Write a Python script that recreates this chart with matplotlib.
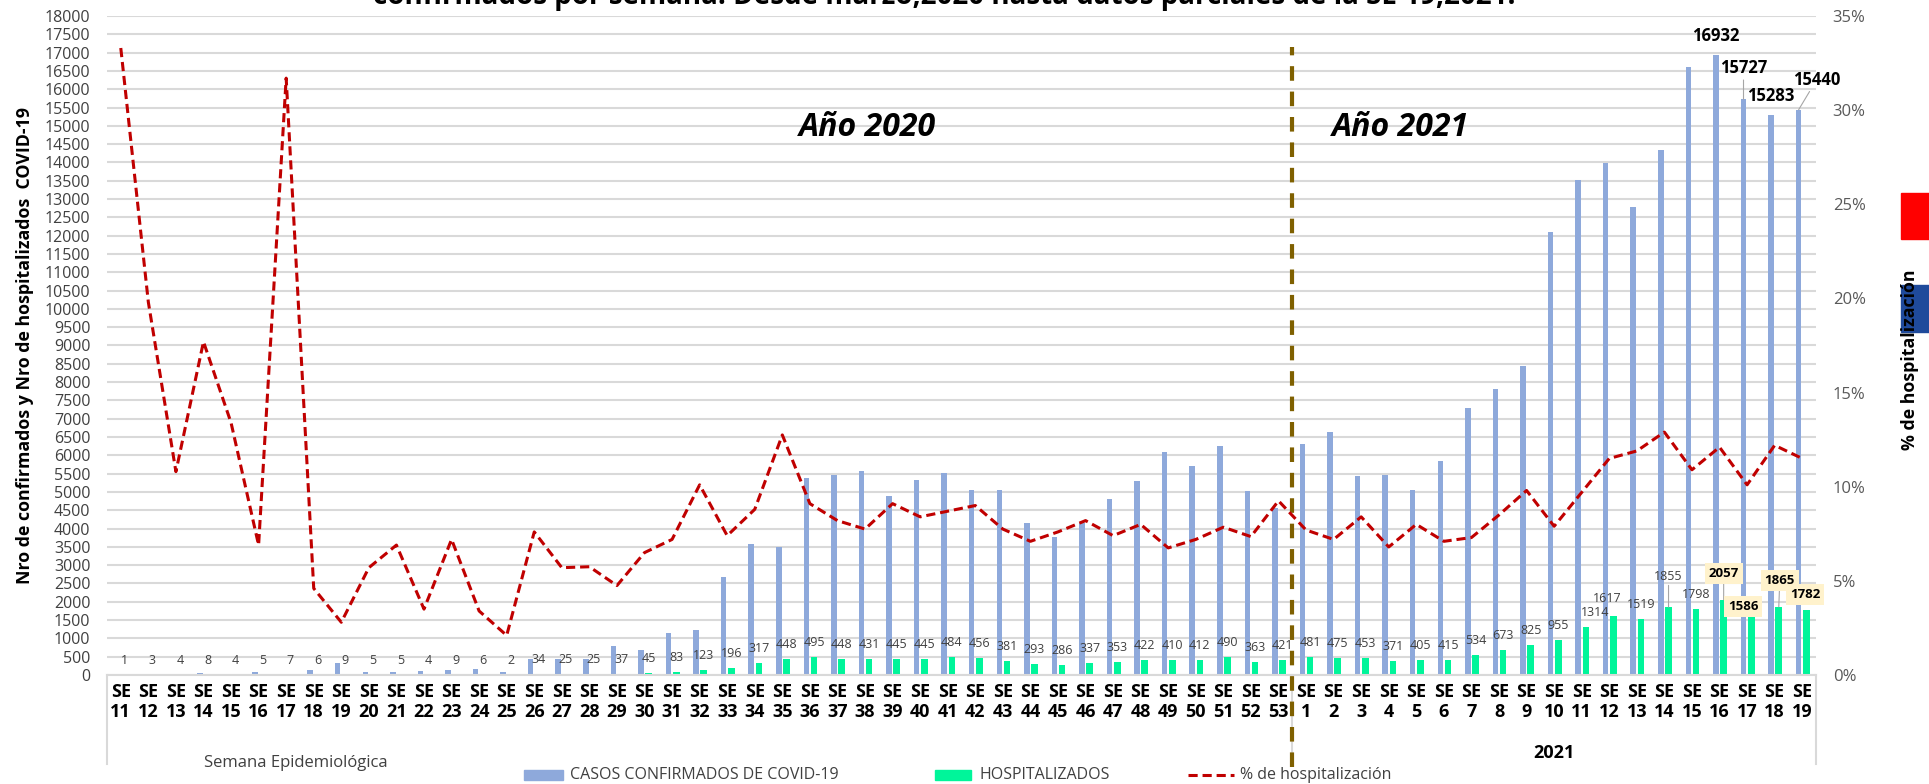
import numpy as np
import matplotlib.pyplot as plt
import matplotlib.transforms as mtransforms
from matplotlib.patches import Rectangle
from matplotlib.lines import Line2D

plt.rcParams['font.family'] = ['Open Sans', 'DejaVu Sans']

# Semanas epidemiologicas
weeks_2020 = list(range(11, 54))
weeks_2021 = list(range(1, 20))

# Casos confirmados por semana
cases_2020 = [3, 15, 37, 45, 30, 73, 22, 130, 318, 87, 72, 114, 125, 176, 95,
              447, 441, 435, 780, 692, 1160, 1238, 2669, 3579, 3497, 5391, 5464,
              5574, 4900, 5328, 5528, 5045, 5045, 4144, 3770, 4144, 4800, 5292,
              6093, 5710, 6248, 5019, 4554]
cases_2021 = [6320, 6630, 5437, 5464, 5063, 5847, 7304, 7814, 8443, 12112,
              13516, 13980, 12795, 14336, 16603, 16932, 15727, 15283, 15440]

# Hospitalizados
hosp_2020 = [1, 3, 4, 8, 4, 5, 7, 6, 9, 5, 5, 4, 9, 6, 2, 34, 25, 25, 37, 45,
             83, 123, 196, 317, 448, 495, 448, 431, 445, 445, 484, 456, 381,
             293, 286, 337, 353, 422, 410, 412, 490, 363, 421]
hosp_2021 = [481, 475, 453, 371, 405, 415, 534, 673, 825, 955, 1314, 1617,
             1519, 1855, 1798, 2057, 1586, 1865, 1782]

# % de hospitalizacion
pct_2020 = [33.3, 19.8, 10.8, 17.7, 13.4, 6.9, 31.7, 4.6, 2.8, 5.7, 6.9, 3.5,
            7.2, 3.4, 2.1, 7.6, 5.7, 5.75, 4.75, 6.5, 7.2, 10.1, 7.4, 8.8,
            12.75, 9.1, 8.2, 7.75, 9.1, 8.4, 8.7, 9.0, 7.75, 7.1, 7.6, 8.2,
            7.4, 8.0, 6.75, 7.2, 7.85, 7.35, 9.25]
pct_2021 = [7.7, 7.2, 8.4, 6.8, 8.0, 7.1, 7.3, 8.5, 9.8, 7.9, 9.7, 11.5, 11.9,
            12.9, 10.9, 12.1, 10.1, 12.2, 11.5]

labels = [f"SE\n{w}" for w in weeks_2020 + weeks_2021]
cases = np.array(cases_2020 + cases_2021)
hosp = np.array(hosp_2020 + hosp_2021)
pct = np.array(pct_2020 + pct_2021)
x = np.arange(len(labels))
n20 = len(weeks_2020)

W, H = 1929, 784
fig = plt.figure(figsize=(W / 100, H / 100), dpi=100)


def fx(px):
    return px / W


def fy(py):
    return 1 - py / H


ax = fig.add_axes([fx(107), fy(675), fx(1816) - fx(107), fy(16) - fy(675)])
ax2 = ax.twinx()

blue = '#8EA9DB'
green = '#00F59A'
off_c, off_h = -0.13, 0.15
ax.bar(x + off_c, cases, width=0.2, color=blue, zorder=2)
ax.bar(x + off_h, hosp, width=0.24, color=green, zorder=2)

ax.set_xlim(-0.5, len(x) - 0.5)
ax.set_ylim(0, 18000)
ax.set_yticks(np.arange(0, 18001, 500))
ax.grid(axis='y', color='#D9D9D9', lw=1.5, zorder=0)
ax.set_axisbelow(True)
for s in ['left', 'right', 'top']:
    ax.spines[s].set_visible(False)
ax.spines['bottom'].set_color('#D9D9D9')
ax.spines['bottom'].set_linewidth(1.5)
ax.tick_params(axis='y', length=0, pad=12, labelsize=11.5, labelcolor='#404040')
ax.set_xticks(x)
ax.set_xticklabels(labels, fontsize=13, fontweight='bold', linespacing=1.15)
ax.tick_params(axis='x', length=0, pad=6)

ax2.plot(x, pct, color='#C00000', lw=2.2, dashes=(3, 1.6), zorder=3)
ax2.set_ylim(0, 35)
ax2.set_yticks(range(0, 36, 5))
ax2.set_yticklabels([f"{v}%" for v in range(0, 36, 5)])
ax2.tick_params(axis='y', length=0, pad=12, labelsize=12, labelcolor='#595959')
for s in ax2.spines.values():
    s.set_visible(False)

# etiquetas de hospitalizados (offsets en px)
k21 = lambda wk: n20 + wk - 1
hosp_offsets = {k21(11): (9, 14), k21(12): (-6, 17), k21(13): (0, 15),
                k21(14): (0, 31), k21(15): (0, 15), k21(16): (0, 26),
                k21(17): (-8, 10), k21(18): (1, 26), k21(19): (-1, 15)}
boxed = {k21(16), k21(17), k21(18), k21(19)}
leader = {k21(14), k21(16), k21(18)}

for i in x:
    dx, dy = hosp_offsets.get(i, (0, 14.5))
    kw = dict(ha='center', va='center', fontsize=9, color='#404040')
    if i in boxed:
        kw.update(fontsize=9.5, fontweight='bold', color='black',
                  bbox=dict(boxstyle='square,pad=0.3', fc='#FFF2CC', ec='none'))
    if i in leader:
        kw['arrowprops'] = dict(arrowstyle='-', color='#A6A6A6', lw=0.8,
                                shrinkA=0, shrinkB=0)
    ax.annotate(str(hosp[i]), xy=(x[i] + off_h, hosp[i]),
                xytext=(dx * 0.72, dy * 0.72), textcoords='offset points',
                zorder=5, **kw)

# etiquetas de casos de las ultimas semanas
case_offsets = {k21(16): (0, 19), k21(17): (0, 31), k21(18): (0, 19), k21(19): (18, 30)}
for i, (dx, dy) in case_offsets.items():
    kw = dict(ha='center', va='center', fontsize=12, fontweight='bold', color='black')
    if dy > 25:
        kw['arrowprops'] = dict(arrowstyle='-', color='#A6A6A6', lw=0.8,
                                shrinkA=0, shrinkB=0)
    ax.annotate(str(cases[i]), xy=(x[i] + off_c, cases[i]),
                xytext=(dx * 0.72, dy * 0.72), textcoords='offset points',
                zorder=5, **kw)

# separador de anios y caja de categorias
trans = mtransforms.blended_transform_factory(ax.transData, ax.transAxes)
for xv in [-0.5, n20 - 0.5, len(x) - 0.5]:
    ax.plot([xv, xv], [0, -0.135], transform=trans, color='#D9D9D9', lw=1.5,
            clip_on=False)
ax.plot([n20 - 0.5] * 2, [-0.14, 0.953], transform=trans, color='#7F6000',
        lw=3, dashes=(3.5, 2.6), clip_on=False, zorder=6)

fig.text(fx(867), fy(128), "Año 2020", ha='center', va='center', fontsize=23,
         fontweight='bold', fontstyle='italic')
fig.text(fx(1400), fy(128), "Año 2021", ha='center', va='center', fontsize=23,
         fontweight='bold', fontstyle='italic')

fig.text(fx(944), fy(4), "confirmados por semana. Desde marzo,2020 hasta datos "
         "parciales de la SE 19,2021.", ha='center', va='baseline',
         fontsize=20, fontweight='bold')

fig.text(fx(25), fy(345), "Nro de confirmados y Nro de hospitalizados  COVID-19",
         rotation=90, ha='center', va='center', fontsize=12.8, fontweight='bold')

fig.text(fx(296), fy(763), "Semana Epidemiológica", ha='center', va='center',
         fontsize=12, color='#404040')
fig.text(fx(1554), fy(753), "2021", ha='center', va='center', fontsize=13,
         fontweight='bold')

# rectangulos del borde derecho
fig.add_artist(Rectangle((fx(1901), fy(239)), fx(28), 46 / H,
                         transform=fig.transFigure, color='#FF0000'))
fig.add_artist(Rectangle((fx(1901), fy(332)), fx(28), 47 / H,
                         transform=fig.transFigure, color='#1F4A9B'))
fig.text(fx(1910), fy(360), "% de hospitalización", rotation=90, ha='center',
         va='center', fontsize=12.8, fontweight='bold', zorder=10)

# leyenda
fig.add_artist(Rectangle((fx(524), fy(780)), fx(39), 10 / H,
                         transform=fig.transFigure, color=blue))
fig.text(fx(570), fy(775), "CASOS CONFIRMADOS DE COVID-19", va='center',
         fontsize=11.5, color='#404040')
fig.add_artist(Rectangle((fx(935), fy(780)), fx(36), 10 / H,
                         transform=fig.transFigure, color=green))
fig.text(fx(979), fy(775), "HOSPITALIZADOS", va='center', fontsize=11.5,
         color='#404040')
fig.add_artist(Line2D([fx(1188), fx(1234)], [fy(775), fy(775)],
                      transform=fig.transFigure, color='#C00000', lw=2.2,
                      dashes=(3, 1.6)))
fig.text(fx(1240), fy(775), "% de hospitalización", va='center', fontsize=11.5,
         color='#404040')

fig.savefig("out.png", dpi=100)
